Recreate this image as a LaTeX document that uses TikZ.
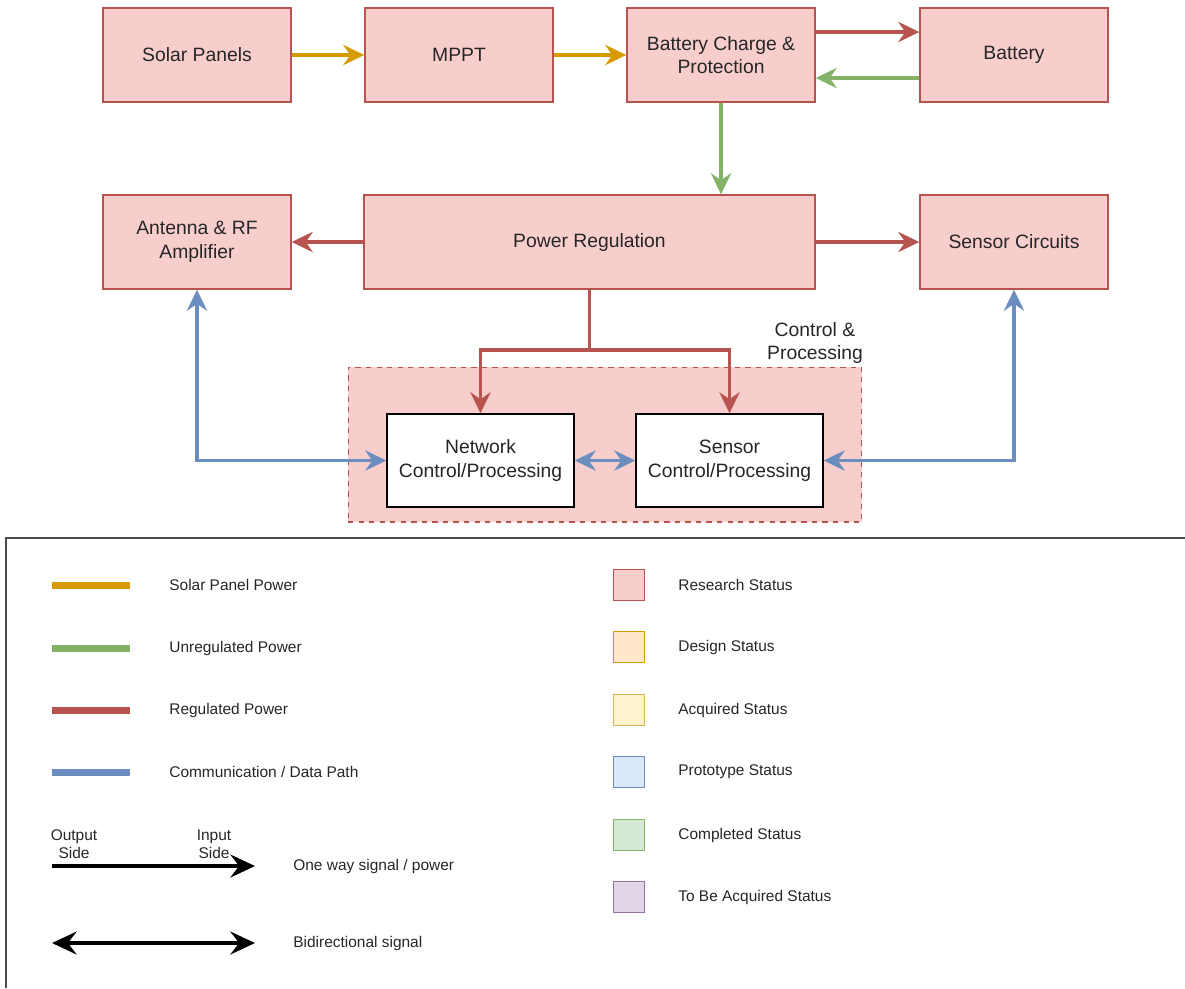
\documentclass[tikz,border=0pt]{standalone}
\usepackage{fontspec}
\setmainfont{Liberation Sans}
\usetikzlibrary{arrows.meta,positioning}
\definecolor{researchfill}{HTML}{F8CECC}
\definecolor{researchline}{HTML}{B85450}
\definecolor{designfill}{HTML}{FFE6CC}
\definecolor{designline}{HTML}{D79B00}
\definecolor{acquiredfill}{HTML}{FFF2CC}
\definecolor{acquiredline}{HTML}{D6B656}
\definecolor{prototypefill}{HTML}{DAE8FC}
\definecolor{prototypeline}{HTML}{6C8EBF}
\definecolor{completedfill}{HTML}{D5E8D4}
\definecolor{completedline}{HTML}{82B366}
\definecolor{tobeacquiredfill}{HTML}{E1D5E7}
\definecolor{tobeacquiredline}{HTML}{9673A6}
\definecolor{solarpower}{HTML}{D79B00}
\definecolor{unregpower}{HTML}{82B366}
\definecolor{regpower}{HTML}{B85450}
\definecolor{datapath}{HTML}{6C8EBF}

\begin{document}
\begin{tikzpicture}[x=0.02cm, y=-0.02cm]
            \tikzstyle{every node} = [text=black!85]
            \tikzstyle{block} = [draw=researchline, fill=researchfill, line width=0.8pt,
                minimum width=3.76cm, minimum height=1.88cm, inner sep=0pt,
                align=center, font=\fontsize{11}{13.5}\selectfont]
            \tikzstyle{ctrlblock} = [block, draw=black, fill=white,
                minimum width=3.74cm, minimum height=1.86cm]
            \tikzstyle{wire} = [line width=2.1pt,
                -{Stealth[length=12pt, width=11.5pt, inset=4pt]}]
            \tikzstyle{biwire} = [line width=2.1pt,
                {Stealth[length=12pt, width=11.5pt, inset=4pt]}-{Stealth[length=12pt, width=11.5pt, inset=4pt]}]
            \tikzstyle{legendtext} = [anchor=west, inner sep=0pt, font=\fontsize{8.8}{10.5}\selectfont]
            \tikzstyle{legendarrow} = [line width=2.5pt,
                -{Stealth[length=14pt, width=13pt, inset=5pt]}]

            \useasboundingbox (0,0) rectangle (1185,988);

            \node[block] (solar) at (197,55) {Solar Panels};
            \node[block] (mppt) at (459,55) {MPPT};
            \node[block] (charge) at (721,55) {Battery Charge \&\\Protection};
            \node[block] (battery) at (1014,55) {Battery};

            \node[block] (antenna) at (197,242) {Antenna \& RF\\Amplifier};
            \node[block, minimum width=9.02cm] (regulation) at (589.5,242) {Power Regulation};
            \node[block] (sensors) at (1014,242) {Sensor Circuits};

            \node[draw=researchline, fill=researchfill, dashed, line width=0.6pt,
                minimum width=10.28cm, minimum height=3.1cm] (control) at (605,444.5) {};
            \node[align=center, font=\fontsize{11}{13.5}\selectfont] (controllabel) at (815,343)
                {Control \&\\Processing};
            \node[ctrlblock] (network) at (480.5,460.5) {Network\\Control/Processing};
            \node[ctrlblock] (sensorctrl) at (729.5,460.5) {Sensor\\Control/Processing};

            \draw[wire, solarpower] (solar) -- (mppt);
            \draw[wire, solarpower] (mppt) -- (charge);
            \draw[wire, regpower] ([yshift=0.46cm]charge.east) -- ([yshift=0.46cm]battery.west);
            \draw[wire, unregpower] ([yshift=-0.46cm]battery.west) -- ([yshift=-0.46cm]charge.east);
            \draw[wire, unregpower] (charge.south) -- (charge.south |- regulation.north);
            \draw[wire, regpower] (regulation) -- (antenna);
            \draw[wire, regpower] (regulation) -- (sensors);

            \coordinate (split) at (589.5,350);
            \draw[wire, regpower] (regulation.south) -- (split) -| (network.north);
            \draw[wire, regpower] (regulation.south) -- (split) -| (sensorctrl.north);

            \draw[biwire, datapath] (antenna.south) |- (network.west);
            \draw[biwire, datapath] (network) -- (sensorctrl);
            \draw[biwire, datapath] (sensors.south) |- (sensorctrl.east);

            \draw[line width=0.8pt, black!70] (6,988) -- (6,538) -- (1185,538);

            \foreach \y/\col/\txt in {585/solarpower/Solar Panel Power,
                    648/unregpower/Unregulated Power,
                    710/regpower/Regulated Power,
                    772/datapath/{Communication / Data Path}} {
                \coordinate (linefrom\y) at (52,\y);
                \coordinate (lineto\y) at (130,\y);
                \draw[line width=4pt, \col] (linefrom\y) -- (lineto\y);
                \node[legendtext] (linelabel\y) at (169,\y) {\txt};
            }

            \foreach \y/\st/\txt in {585/research/Research Status,
                    647/design/Design Status,
                    710/acquired/Acquired Status,
                    772/prototype/Prototype Status,
                    835/completed/Completed Status,
                    897/tobeacquired/To Be Acquired Status} {
                \node[draw=\st line, fill=\st fill, line width=0.8pt,
                    minimum size=0.62cm, inner sep=0pt] (status\st) at (629,\y) {};
                \node[legendtext] (statuslabel\st) at (678,\y) {\txt};
            }

            \coordinate (onewayfrom) at (52,866);
            \coordinate (onewayto) at (255,866);
            \draw[legendarrow] (onewayfrom) -- (onewayto);
            \node[align=center, inner sep=0pt, font=\fontsize{8.8}{10.5}\selectfont] (outputside)
                at (74,844) {Output\\Side};
            \node[align=center, inner sep=0pt, font=\fontsize{8.8}{10.5}\selectfont] (inputside)
                at (214,844) {Input\\Side};
            \node[legendtext] (onewaylabel) at (293,866) {One way signal / power};

            \coordinate (bifrom) at (52,943);
            \coordinate (bito) at (255,943);
            \draw[legendarrow, {Stealth[length=14pt, width=13pt, inset=5pt]}-{Stealth[length=14pt, width=13pt, inset=5pt]}]
                (bifrom) -- (bito);
            \node[legendtext] (bilabel) at (293,943) {Bidirectional signal};
        \end{tikzpicture}
\end{document}
